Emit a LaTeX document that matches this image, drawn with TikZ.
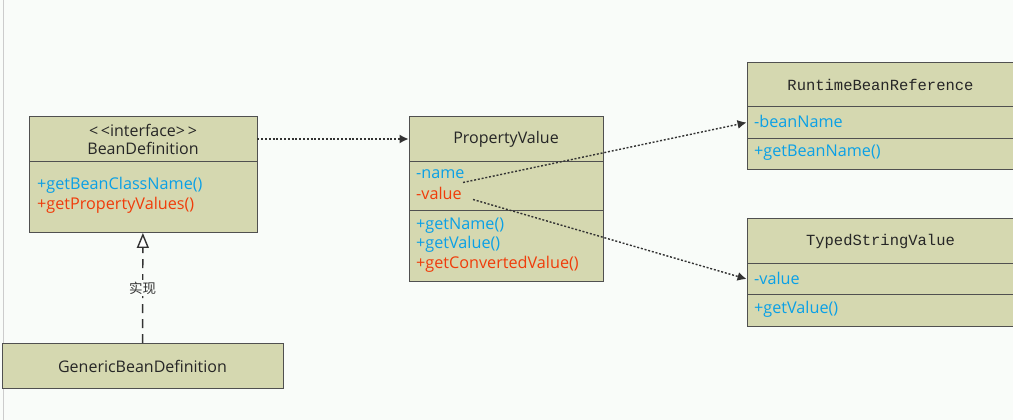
\documentclass[tikz,border=0pt]{standalone}
\usepackage{fontspec}
\setmainfont{Open Sans}
\setmonofont{Liberation Mono}
\newfontfamily\cjkfont{Noto Sans CJK SC}
\usetikzlibrary{arrows.meta}
\definecolor{paper}{RGB}{249,252,249}
\definecolor{boxfill}{RGB}{213,216,176}
\definecolor{boxline}{RGB}{80,80,80}
\definecolor{memblue}{RGB}{10,160,230}
\definecolor{memred}{RGB}{240,60,10}
\tikzset{
	umlpart/.style={draw=boxline, fill=boxfill, line width=0.9pt, inner sep=0pt},
	member/.style={anchor=west, inner sep=0pt, font=\fontsize{16.2}{18}\selectfont},
	headtext/.style={font=\fontsize{16}{18}\selectfont, text=black!85, align=center},
	depend/.style={draw=black!80, line width=1.4pt, dash pattern=on 2pt off 1.8pt, -{Latex[length=9pt,width=9pt]}},
	realize/.style={draw=black!80, line width=1.4pt, dash pattern=on 9pt off 6pt, -{Triangle[open, length=15pt, width=12pt, fill=white]}}
}
\begin{document}
\begin{tikzpicture}[x=1pt, y=-1pt]
			%%%%% START %%%%%
			
			\fill[paper] (0, 0) rectangle (1013, 419);
			\draw[black!20, line width=1pt] (3, 0) -- (3, 419);
			\useasboundingbox (0, 0) rectangle (1013, 419);
			
			% BeanDefinition
			\node[umlpart, minimum width=228pt, minimum height=45pt, headtext] (bdhead) at (143, 138.5) {<\,<interface>\,>\\BeanDefinition};
			\node[umlpart, minimum width=228pt, minimum height=71pt] (bdmeth) at (143, 196.5) {};
			\node[member, text=memblue] (bdm1) at (37, 185) {+getBeanClassName()};
			\node[member, text=memred] (bdm2) at (37, 205) {+getPropertyValues()};
			
			% GenericBeanDefinition
			\node[umlpart, minimum width=281pt, minimum height=45pt, headtext] (genbd) at (142.5, 365.5) {GenericBeanDefinition};
			
			% PropertyValue
			\node[umlpart, minimum width=194pt, minimum height=45pt, headtext] (pvhead) at (506, 138.5) {PropertyValue};
			\node[umlpart, minimum width=194pt, minimum height=49pt] (pvattr) at (506, 185.5) {};
			\node[umlpart, minimum width=194pt, minimum height=71pt] (pvmeth) at (506, 245.5) {};
			\node[member, text=memblue] (pvname) at (416, 174) {-name};
			\node[member, text=memred] (pvvalue) at (416, 193) {-value};
			\node[member, text=memblue] (pvm1) at (416, 225) {+getName()};
			\node[member, text=memblue] (pvm2) at (416, 244) {+getValue()};
			\node[member, text=memred] (pvm3) at (416, 264) {+getConvertedValue()};
			
			% RuntimeBeanReference
			\node[umlpart, minimum width=267pt, minimum height=44pt, headtext, font=\ttfamily\fontsize{15.5}{18}\selectfont] (rbrhead) at (880.5, 84) {RuntimeBeanReference};
			\node[umlpart, minimum width=267pt, minimum height=32pt] (rbrattr) at (880.5, 122) {};
			\node[umlpart, minimum width=267pt, minimum height=31pt] (rbrmeth) at (880.5, 153.5) {};
			\node[member, text=memblue] (rbra1) at (754, 121) {-beanName};
			\node[member, text=memblue] (rbrm1) at (754, 152) {+getBeanName()};
			
			% TypedStringValue
			\node[umlpart, minimum width=267pt, minimum height=45pt, headtext, font=\ttfamily\fontsize{15.5}{18}\selectfont] (tsvhead) at (880.5, 240.5) {TypedStringValue};
			\node[umlpart, minimum width=267pt, minimum height=31pt] (tsvattr) at (880.5, 278.5) {};
			\node[umlpart, minimum width=267pt, minimum height=32pt] (tsvmeth) at (880.5, 310) {};
			\node[member, text=memblue] (tsva1) at (754, 278) {-value};
			\node[member, text=memblue] (tsvm1) at (754, 309) {+getValue()};
			
			% connectors
			\coordinate (nameend) at (463, 182);
			\coordinate (valueend) at (473, 199);
			\draw[depend] (bdhead) -- (pvhead);
			\draw[depend] (nameend) -- (rbrattr.west);
			\draw[depend] (valueend) -- (tsvattr.west);
			\draw[realize] (genbd) -- node[fill=paper, inner sep=1.5pt, font=\cjkfont\fontsize{13.5}{15}\selectfont, text=black!80] (implabel) {实现} (bdmeth);
			
			%%%%% END %%%%%
\end{tikzpicture}
\end{document}
